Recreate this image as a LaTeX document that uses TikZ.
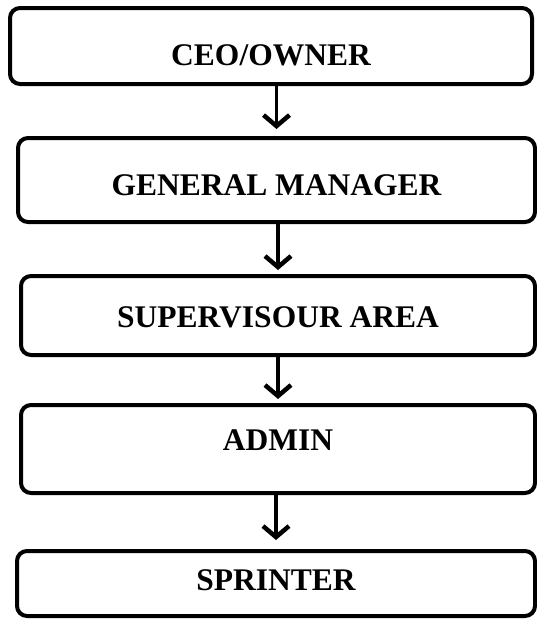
\documentclass[tikz,border=0pt]{standalone}
\usepackage{fontspec}
\setmainfont{Liberation Serif}
\usetikzlibrary{arrows.meta}

\begin{document}
\begin{tikzpicture}[x=1pt,y=-1pt,>={Straight Barb[length=11pt,width=26pt,line width=4.5pt]},
		block/.style={draw,line width=4pt,rounded corners=10pt,inner sep=0pt,
			font=\fontsize{31.5}{34}\selectfont\bfseries}]
		\useasboundingbox (0,0) rectangle (537,619);

		\node[block,minimum width=522pt,text height=57pt,text depth=19pt] (ceo)   at (271,46)    {CEO/OWNER};
		\node[block,minimum width=517pt,text height=57pt,text depth=27pt] (gm)    at (276.5,180) {GENERAL MANAGER};
		\node[block,minimum width=514pt,text height=51pt,text depth=28pt] (super) at (278,315.5) {SUPERVISOUR AREA};
		\node[block,minimum width=514pt,text height=45pt,text depth=43pt] (admin) at (278,449)   {ADMIN};
		\node[block,minimum width=518pt,text height=39pt,text depth=26pt] (sprint) at (276,583.5) {SPRINTER};

		\path[->,line width=3.5pt,shorten >=7pt] (ceo.south -| gm)      edge (gm.north);
		\path[->,line width=3.5pt,shorten >=4pt] (gm.south -| super)    edge (super.north);
		\path[->,line width=3.5pt,shorten >=4pt] (super.south -| admin) edge (admin.north);
		\path[->,line width=3.5pt,shorten >=9pt] (admin.south -| sprint) edge (sprint.north);
	\end{tikzpicture}
\end{document}
